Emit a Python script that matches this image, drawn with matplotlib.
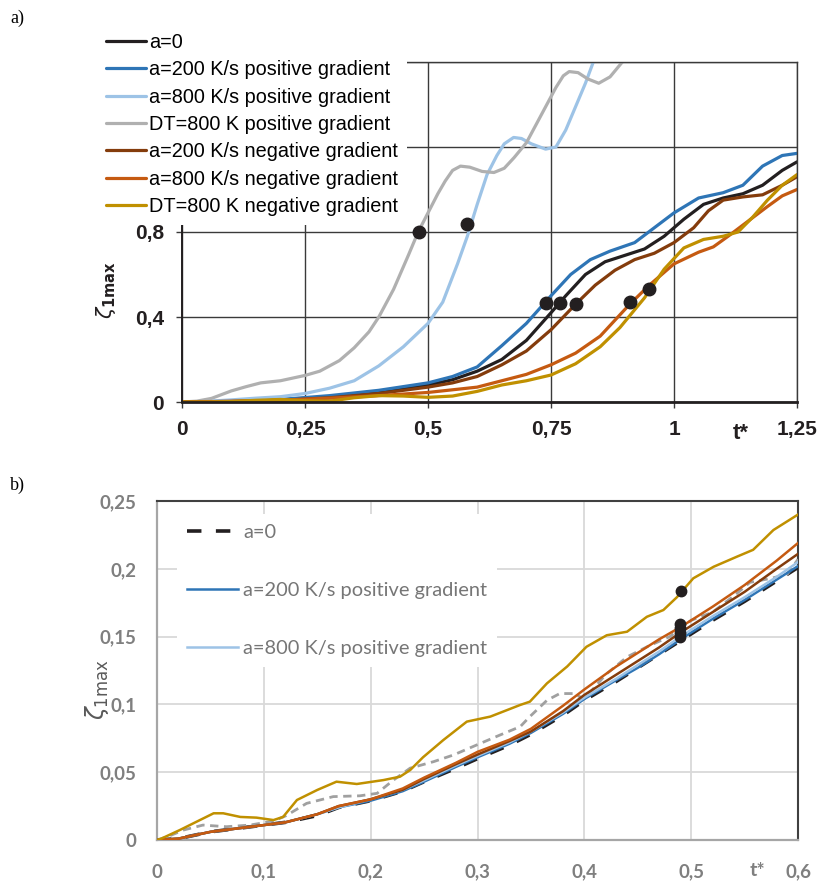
import matplotlib
matplotlib.use("Agg")
import matplotlib.pyplot as plt

# ---------------- panel a) data ----------------
t_a0 = [0, 0.1, 0.2, 0.3, 0.4, 0.5, 0.55, 0.6, 0.65, 0.7, 0.75, 0.78, 0.82, 0.86,
        0.9, 0.94, 0.98, 1.02, 1.06, 1.1, 1.14, 1.18, 1.22, 1.25]
z_a0 = [0, 0.003, 0.01, 0.025, 0.045, 0.08, 0.105, 0.145, 0.2, 0.29, 0.42, 0.5, 0.6, 0.66,
        0.69, 0.72, 0.78, 0.86, 0.93, 0.96, 0.98, 1.02, 1.09, 1.13]

t_p200 = [0, 0.1, 0.2, 0.3, 0.4, 0.5, 0.55, 0.6, 0.65, 0.7, 0.75, 0.79, 0.83, 0.87,
          0.92, 0.96, 1.0, 1.05, 1.1, 1.14, 1.18, 1.22, 1.25]
z_p200 = [0, 0.004, 0.012, 0.03, 0.055, 0.09, 0.12, 0.165, 0.265, 0.37, 0.5, 0.6, 0.67, 0.71,
          0.75, 0.82, 0.89, 0.96, 0.985, 1.02, 1.11, 1.16, 1.17]

t_p800 = [0, 0.05, 0.1, 0.15, 0.2, 0.25, 0.3, 0.35, 0.4, 0.45, 0.5, 0.53, 0.56, 0.58,
          0.6, 0.62, 0.64, 0.655, 0.674, 0.69, 0.71, 0.739, 0.76, 0.78, 0.8, 0.82, 0.836]
z_p800 = [0, 0.003, 0.01, 0.018, 0.025, 0.04, 0.065, 0.1, 0.17, 0.26, 0.37, 0.47, 0.65, 0.78,
          0.93, 1.07, 1.16, 1.215, 1.245, 1.24, 1.215, 1.19, 1.2, 1.28, 1.39, 1.5, 1.6]

t_pdt = [0, 0.03, 0.06, 0.1, 0.13, 0.16, 0.2, 0.25, 0.28, 0.32, 0.35, 0.38, 0.4, 0.43,
         0.46, 0.48, 0.5, 0.52, 0.535, 0.55, 0.566, 0.585, 0.61, 0.634, 0.655, 0.675, 0.7,
         0.73, 0.76, 0.775, 0.787, 0.805, 0.825, 0.847, 0.87, 0.895]
z_pdt = [0, 0.004, 0.017, 0.052, 0.072, 0.09, 0.1, 0.125, 0.145, 0.195, 0.255, 0.33, 0.4, 0.53,
         0.69, 0.8, 0.89, 0.98, 1.04, 1.09, 1.11, 1.105, 1.085, 1.08, 1.1, 1.15, 1.22,
         1.35, 1.48, 1.535, 1.555, 1.55, 1.52, 1.5, 1.53, 1.6]

t_n200 = [0, 0.1, 0.2, 0.3, 0.4, 0.5, 0.55, 0.6, 0.65, 0.7, 0.75, 0.8, 0.84, 0.88,
          0.92, 0.96, 1.0, 1.04, 1.07, 1.1, 1.14, 1.18, 1.22, 1.25]
z_n200 = [0, 0.003, 0.008, 0.02, 0.04, 0.07, 0.09, 0.12, 0.175, 0.24, 0.34, 0.46, 0.55, 0.62,
          0.67, 0.7, 0.75, 0.82, 0.9, 0.95, 0.965, 0.975, 1.02, 1.06]

t_n800 = [0, 0.1, 0.2, 0.3, 0.4, 0.5, 0.6, 0.65, 0.7, 0.75, 0.8, 0.85, 0.88, 0.91,
          0.95, 1.0, 1.05, 1.08, 1.11, 1.15, 1.19, 1.22, 1.25]
z_n800 = [0, 0.003, 0.008, 0.018, 0.03, 0.045, 0.07, 0.1, 0.13, 0.175, 0.23, 0.31, 0.385, 0.46,
          0.55, 0.65, 0.705, 0.73, 0.78, 0.85, 0.92, 0.97, 1.0]

t_ndt = [0, 0.05, 0.1, 0.15, 0.2, 0.25, 0.3, 0.35, 0.4, 0.45, 0.5, 0.55, 0.6, 0.65, 0.7,
         0.75, 0.8, 0.85, 0.89, 0.94, 0.98, 1.02, 1.06, 1.1, 1.13, 1.16, 1.19, 1.22, 1.25]
z_ndt = [0, 0.0, 0.002, 0.008, 0.012, 0.006, 0.004, 0.02, 0.03, 0.028, 0.022, 0.028, 0.05, 0.08, 0.1,
         0.127, 0.18, 0.26, 0.35, 0.49, 0.625, 0.725, 0.765, 0.78, 0.8, 0.87, 0.95, 1.02, 1.07]

dots_a_t = [0.481, 0.58, 0.739, 0.769, 0.80, 0.91, 0.95]
dots_a_z = [0.80, 0.84, 0.466, 0.466, 0.46, 0.47, 0.53]

labels_a = ["a=0", "a=200 K/s positive gradient", "a=800 K/s positive gradient",
            "DT=800 K positive gradient", "a=200 K/s negative gradient",
            "a=800 K/s negative gradient", "DT=800 K negative gradient"]
xticks_a = [0, 0.25, 0.5, 0.75, 1, 1.25]
xlabels_a = ["0", "0,25", "0,5", "0,75", "1", "1,25"]
yticks_a = [0, 0.4, 0.8, 1.2, 1.6]
ylabels_a = ["0", "0,4", "0,8", "", ""]

# ---------------- panel b) data ----------------
t_b = [0, 0.02, 0.05, 0.08, 0.1, 0.12, 0.15, 0.17, 0.2, 0.23, 0.25, 0.28, 0.3, 0.33,
       0.35, 0.38, 0.4, 0.43, 0.45, 0.47, 0.49, 0.52, 0.55, 0.58, 0.6]
zb_a0 = [0, 0.001, 0.006, 0.009, 0.011, 0.013, 0.018, 0.024, 0.029, 0.036, 0.043, 0.053, 0.06,
         0.07, 0.078, 0.092, 0.103, 0.117, 0.127, 0.137, 0.147, 0.162, 0.176, 0.191, 0.201]
zb_p200 = [0, 0.001, 0.006, 0.009, 0.011, 0.013, 0.019, 0.024, 0.029, 0.036, 0.043, 0.054, 0.061,
           0.071, 0.079, 0.093, 0.104, 0.118, 0.127, 0.137, 0.148, 0.163, 0.177, 0.192, 0.202]
zb_p800 = [0, 0.001, 0.006, 0.009, 0.011, 0.013, 0.019, 0.024, 0.03, 0.037, 0.044, 0.055, 0.062,
           0.072, 0.08, 0.094, 0.105, 0.119, 0.129, 0.139, 0.15, 0.165, 0.179, 0.194, 0.205]
zb_n200 = [0, 0.001, 0.006, 0.009, 0.011, 0.013, 0.019, 0.025, 0.03, 0.037, 0.045, 0.056, 0.063,
           0.073, 0.08, 0.095, 0.107, 0.122, 0.132, 0.142, 0.153, 0.168, 0.183, 0.2, 0.211]
zb_n800 = [0, 0.001, 0.006, 0.009, 0.011, 0.013, 0.019, 0.025, 0.03, 0.038, 0.046, 0.057, 0.065,
           0.074, 0.082, 0.099, 0.111, 0.128, 0.138, 0.148, 0.157, 0.172, 0.188, 0.206, 0.219]

tb_pdt = [0, 0.01, 0.025, 0.043, 0.065, 0.087, 0.109, 0.121, 0.14, 0.165, 0.19, 0.206, 0.221,
          0.237, 0.259, 0.2775, 0.299, 0.321, 0.34, 0.349, 0.365, 0.377, 0.39, 0.4, 0.42, 0.44,
          0.46, 0.48, 0.5, 0.52, 0.54, 0.555, 0.575, 0.59, 0.6]
zb_pdt = [0, 0.0025, 0.0074, 0.011, 0.0098, 0.011, 0.014, 0.018, 0.027, 0.032, 0.0326, 0.0344,
          0.044, 0.053, 0.0578, 0.0627, 0.07, 0.0774, 0.0836, 0.091, 0.103, 0.108, 0.108, 0.104,
          0.122, 0.135, 0.143, 0.15, 0.162, 0.168, 0.18, 0.19, 0.193, 0.196, 0.207]

tb_ndt = [0, 0.004, 0.0215, 0.034, 0.053, 0.062, 0.078, 0.093, 0.109, 0.118, 0.131, 0.15, 0.168,
          0.187, 0.212, 0.2275, 0.237, 0.249, 0.268, 0.29, 0.312, 0.34, 0.349, 0.365, 0.384,
          0.402, 0.421, 0.44, 0.4585, 0.474, 0.4866, 0.502, 0.521, 0.543, 0.558, 0.577, 0.6]
zb_ndt = [0, 0.001, 0.0074, 0.0123, 0.0197, 0.0197, 0.017, 0.0165, 0.0147, 0.017, 0.0295, 0.0369,
          0.043, 0.0413, 0.0442, 0.0467, 0.0516, 0.061, 0.0737, 0.0873, 0.091, 0.0996, 0.102,
          0.1155, 0.128, 0.1425, 0.151, 0.1536, 0.1646, 0.1696, 0.179, 0.193, 0.2015, 0.209,
          0.214, 0.2286, 0.24]

dots_b_t = [0.4906, 0.49, 0.49, 0.49, 0.49]
dots_b_z = [0.1836, 0.159, 0.156, 0.153, 0.150]

xticks_b = [0, 0.1, 0.2, 0.3, 0.4, 0.5, 0.6]
xlabels_b = ["0", "0,1", "0,2", "0,3", "0,4", "0,5", "0,6"]
yticks_b = [0, 0.05, 0.1, 0.15, 0.2, 0.25]
ylabels_b = ["0", "0,05", "0,1", "0,15", "0,2", "0,25"]

# colours
c_black = "#231f20"
c_blue = "#2e75b6"
c_lblue = "#9dc3e6"
c_gray = "#b0b0b0"
c_brown = "#843c0c"
c_orange = "#c55a11"
c_gold = "#c09000"

W, H = 819, 882
fig = plt.figure(figsize=(W / 100, H / 100), dpi=100)

# ================= panel a) =================
plt.rcParams["font.family"] = "Liberation Sans"
ax1 = fig.add_axes([182 / W, 1 - 402 / H, (797 - 182) / W, (402 - 62) / H])
series_a = [(t_a0, z_a0, c_black), (t_p200, z_p200, c_blue), (t_p800, z_p800, c_lblue),
            (t_pdt, z_pdt, c_gray), (t_n200, z_n200, c_brown), (t_n800, z_n800, c_orange),
            (t_ndt, z_ndt, c_gold)]
for (t, z, c), lab in zip(series_a, labels_a):
    ax1.plot(t, z, color=c, lw=2.3, label=lab, solid_capstyle="round",
             solid_joinstyle="round")
ax1.plot(dots_a_t, dots_a_z, "o", color=c_black, ms=9, zorder=5)

ax1.set_xlim(0, 1.25)
ax1.set_ylim(0, 1.6)
ax1.set_xticks(xticks_a)
ax1.set_xticklabels(xlabels_a)
ax1.set_yticks(yticks_a)
ax1.set_yticklabels(ylabels_a)
ax1.grid(True, color="#3a3a3a", lw=1.0)
ax1.set_axisbelow(True)
ax1.tick_params(direction="out", length=4, width=1, color="#3a3a3a",
                labelsize=15, labelcolor="#231f20", pad=9)
for lbl in ax1.get_xticklabels() + ax1.get_yticklabels():
    lbl.set_fontweight("bold")
for side in ["top", "right"]:
    ax1.spines[side].set_color("#3a3a3a")
    ax1.spines[side].set_linewidth(1.0)
ax1.spines["left"].set_color("#231f20")
ax1.spines["left"].set_linewidth(1.4)
ax1.spines["bottom"].set_color("#231f20")
ax1.spines["bottom"].set_linewidth(2.0)

leg1 = ax1.legend(loc="upper left", bbox_to_anchor=(97 / W, 1 - 24 / H),
                  bbox_transform=fig.transFigure, fontsize=14.3, frameon=True,
                  facecolor="white", edgecolor="none", framealpha=1, fancybox=False,
                  handlelength=2.0, handletextpad=0.15, labelspacing=0.42,
                  borderpad=0.45, borderaxespad=0)
leg1.set_zorder(10)

fig.text(741 / W, 1 - 433 / H, "t*", fontsize=16, fontweight="bold",
         color="#231f20", ha="center", va="center")
fig.text(106 / W, 1 - 290 / H, r"$\zeta_{\mathbf{1max}}$", fontsize=15, rotation=90,
         color="#231f20", ha="center", va="center")
fig.text(10 / W, 1 - 18 / H, "a)", fontsize=13, family="Liberation Serif",
         ha="left", va="center")

# ================= panel b) =================
gray_txt = "#7f7f7f"
ax2 = fig.add_axes([157 / W, 1 - 840 / H, (798 - 157) / W, (840 - 501) / H])
ax2.plot(t_b, zb_a0, color=c_black, lw=2.6, ls=(0, (4, 4)), label="a=0", zorder=3)
ax2.plot(t_b, zb_p200, color=c_blue, lw=1.8, label="a=200 K/s positive gradient", zorder=4)
ax2.plot(t_b, zb_p800, color=c_lblue, lw=1.8, label="a=800 K/s positive gradient", zorder=4)
ax2.plot(tb_pdt, zb_pdt, color="#a0a0a0", lw=2.0, ls=(0, (3, 2)), zorder=3)
ax2.plot(t_b, zb_n200, color=c_brown, lw=1.8, zorder=4)
ax2.plot(t_b, zb_n800, color=c_orange, lw=1.8, zorder=4)
ax2.plot(tb_ndt, zb_ndt, color=c_gold, lw=1.8, zorder=4)
ax2.plot(dots_b_t, dots_b_z, "o", color=c_black, ms=7.5, zorder=6)

ax2.set_xlim(0, 0.6)
ax2.set_ylim(0, 0.25)
ax2.set_xticks(xticks_b)
ax2.set_xticklabels(xlabels_b)
ax2.set_yticks(yticks_b)
ax2.set_yticklabels(ylabels_b)
ax2.grid(True, color="#d9d9d9", lw=1.3)
ax2.set_axisbelow(True)
ax2.tick_params(length=0, labelsize=13.5, labelcolor=gray_txt, pad=15)
ax2.tick_params(axis="x", pad=17)
for lbl in ax2.get_xticklabels() + ax2.get_yticklabels():
    lbl.set_fontweight("bold")
    lbl.set_family("Lato")
for side in ["top", "right"]:
    ax2.spines[side].set_color("#404040")
    ax2.spines[side].set_linewidth(1.5)
for side in ["left", "bottom"]:
    ax2.spines[side].set_color("#a6a6a6")
    ax2.spines[side].set_linewidth(1.6)

leg2 = ax2.legend(loc="upper left", bbox_to_anchor=(177 / W, 1 - 514 / H),
                  bbox_transform=fig.transFigure, prop={"family": "Lato", "size": 14.4},
                  frameon=True, facecolor="white", edgecolor="none", framealpha=1,
                  fancybox=False, handlelength=2.57, handletextpad=0.25,
                  labelspacing=2.06, borderpad=0.5, borderaxespad=0)
for txt in leg2.get_texts():
    txt.set_color("#767676")
leg2.set_zorder(10)

fig.text(757 / W, 1 - 871 / H, "t*", fontsize=14, fontweight="bold", family="Lato",
         color=gray_txt, ha="center", va="center")
fig.text(97 / W, 1 - 690 / H, r"$\zeta_{\mathrm{1max}}$", fontsize=17, rotation=90,
         color="#595959", ha="center", va="center")
fig.text(10 / W, 1 - 485 / H, "b)", fontsize=13, family="Liberation Serif",
         ha="left", va="center")

fig.savefig("out.png", dpi=100)
